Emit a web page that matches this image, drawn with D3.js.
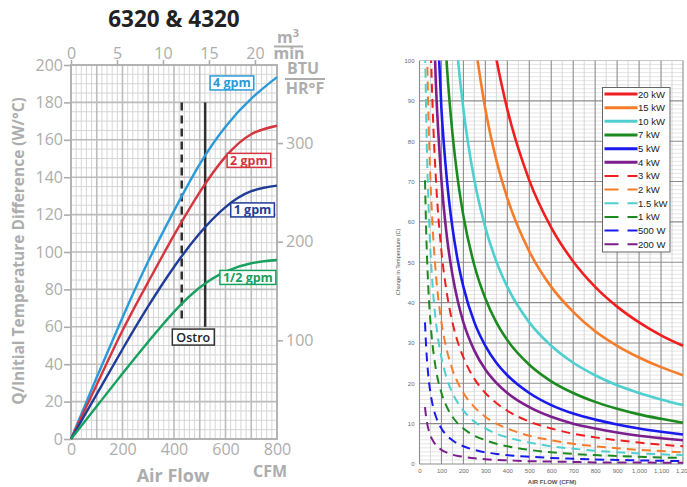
<!DOCTYPE html>
<html><head><meta charset="utf-8">
<script src="https://cdn.jsdelivr.net/npm/d3@7"></script>
<style>body{margin:0;background:#fff;overflow:hidden}</style></head>
<body><svg id="c" width="687" height="487"></svg>
<script>
// ---------- LEFT CHART DATA ----------
const leftFlow = [0, 100, 200, 300, 400, 500, 600, 700, 800];           // CFM
const gpm4  = [0, 33, 65, 95, 122, 147, 167, 182, 193.5];
const gpm2  = [0, 29, 58, 84, 109, 132, 151, 163, 167.5];
const gpm1  = [0, 24, 48, 71, 92, 110, 124, 132.5, 135.5];
const gpmHalf = [0, 17.5, 35, 52, 68, 81, 89.5, 94, 95.7];
const leftNames = ["4 gpm", "2 gpm", "1 gpm", "1/2 gpm"];
const leftColors = ["#2a9bd8", "#d3363f", "#1f3c98", "#17a05e"];
const leftYTicks = [0, 20, 40, 60, 80, 100, 120, 140, 160, 180, 200];
const leftXTicks = [0, 200, 400, 600, 800];
const topTicks = [0, 5, 10, 15, 20];           // m3/min
const btuTicks = [100, 200, 300];
const ostroFlow = [430, 521];                   // dashed, solid
const ostroRange = [[62, 180], [60, 180]];

// ---------- RIGHT CHART DATA ----------
const rightFlow = [25, 30, 40, 50, 60, 75, 100, 125, 150, 175, 200, 250, 300, 350, 400, 500, 600, 700, 800, 900, 1000, 1100, 1200];
const kw20  = [null,null,null,null,null,null,null,null,null,null,null,null,117.1,100.4,87.9,70.3,58.6,50.2,43.9,39.0,35.1,31.9,29.3];
const kw15  = [null,null,null,null,null,null,null,null,null,null,null,105.4,87.9,75.3,65.9,52.7,43.9,37.7,32.9,29.3,26.4,24.0,22.0];
const kw10  = [null,null,null,null,null,null,null,null,117.1,100.4,87.9,70.3,58.6,50.2,43.9,35.1,29.3,25.1,22.0,19.5,17.6,16.0,14.6];
const kw7   = [null,null,null,null,null,null,123.0,98.4,82.0,70.3,61.5,49.2,41.0,35.1,30.7,24.6,20.5,17.6,15.4,13.7,12.3,11.2,10.2];
const kw5   = [null,null,null,null,null,117.1,87.9,70.3,58.6,50.2,43.9,35.1,29.3,25.1,22.0,17.6,14.6,12.5,11.0,9.8,8.8,8.0,7.3];
const kw4   = [null,null,null,null,117.1,93.7,70.3,56.2,46.9,40.2,35.1,28.1,23.4,20.1,17.6,14.1,11.7,10.0,8.8,7.8,7.0,6.4,5.9];
const kw3   = [null,null,null,105.4,87.9,70.3,52.7,42.2,35.1,30.1,26.4,21.1,17.6,15.1,13.2,10.5,8.8,7.5,6.6,5.9,5.3,4.8,4.4];
const kw2   = [null,117.1,87.9,70.3,58.6,46.9,35.1,28.1,23.4,20.1,17.6,14.1,11.7,10.0,8.8,7.0,5.9,5.0,4.4,3.9,3.5,3.2,2.9];
const kw1_5 = [105.4,87.9,65.9,52.7,43.9,35.1,26.4,21.1,17.6,15.1,13.2,10.5,8.8,7.5,6.6,5.3,4.4,3.8,3.3,2.9,2.6,2.4,2.2];
const kw1   = [70.3,58.6,43.9,35.1,29.3,23.4,17.6,14.1,11.7,10.0,8.8,7.0,5.9,5.0,4.4,3.5,2.9,2.5,2.2,2.0,1.8,1.6,1.5];
const w500  = [35.1,29.3,22.0,17.6,14.6,11.7,8.8,7.0,5.9,5.0,4.4,3.5,2.9,2.5,2.2,1.8,1.5,1.3,1.1,1.0,0.9,0.8,0.7];
const w200  = [14.1,11.7,8.8,7.0,5.9,4.7,3.5,2.8,2.3,2.0,1.8,1.4,1.2,1.0,0.9,0.7,0.6,0.5,0.4,0.4,0.4,0.3,0.3];
const rightNames = ["20 kW","15 kW","10 kW","7 kW","5 kW","4 kW","3 kW","2 kW","1.5 kW","1 kW","500 W","200 W"];
const rightColors = ["#f01e1e","#f77c2a","#4fcfcf","#1b8a1f","#1a1aee","#7d1e8e","#f01e1e","#f77c2a","#4fcfcf","#1b8a1f","#1a1aee","#7d1e8e"];
const rightDashed = [false,false,false,false,false,false,true,true,true,true,true,true];
const rightXTicks = [0,100,200,300,400,500,600,700,800,900,1000,1100,1200];
const rightYTicks = [0,10,20,30,40,50,60,70,80,90,100];

const svg = d3.select("#c");

// ================= LEFT CHART =================
const L = svg.append("g").attr("font-family", "'Open Sans', sans-serif");
const lx = d3.scaleLinear().domain([0, 800]).range([71, 277]);
const ly = d3.scaleLinear().domain([0, 200]).range([439, 65]);
const lxTop = d3.scaleLinear().domain([0, 22.4]).range([71, 277]);
const lyBtu = d3.scaleLinear().domain([0, 200 * 1.8956]).range([439, 65]);
const axisGray = "#adadad";

// grid minor
const minorX = d3.range(0, 801, 20), minorY = d3.range(0, 201, 5);
L.append("g").selectAll("line").data(minorX.filter(v => v % 100)).join("line")
  .attr("x1", d => lx(d)).attr("x2", d => lx(d)).attr("y1", ly(0)).attr("y2", ly(200))
  .attr("stroke", "#d6d6d6").attr("stroke-width", 1);
L.append("g").selectAll("line").data(minorY.filter(v => v % 20)).join("line")
  .attr("y1", d => ly(d)).attr("y2", d => ly(d)).attr("x1", lx(0)).attr("x2", lx(800))
  .attr("stroke", "#d6d6d6").attr("stroke-width", 1);
L.append("g").selectAll("line").data(d3.range(100, 800, 100)).join("line")
  .attr("x1", d => lx(d)).attr("x2", d => lx(d)).attr("y1", ly(0)).attr("y2", ly(200))
  .attr("stroke", "#bcbcbc").attr("stroke-width", 1.6);
L.append("g").selectAll("line").data(d3.range(20, 200, 20)).join("line")
  .attr("y1", d => ly(d)).attr("y2", d => ly(d)).attr("x1", lx(0)).attr("x2", lx(800))
  .attr("stroke", "#bcbcbc").attr("stroke-width", 1.6);
L.append("rect").attr("x", lx(0)).attr("y", ly(200)).attr("width", lx(800) - lx(0)).attr("height", ly(0) - ly(200))
  .attr("fill", "none").attr("stroke", "#b3b3b3").attr("stroke-width", 2);

function styleAxis(g) {
  g.select(".domain").remove();
  g.selectAll("line").attr("stroke", axisGray).attr("stroke-width", 1.6);
  g.selectAll("text").attr("fill", axisGray).attr("font-size", 16).attr("font-family", "'Open Sans', sans-serif");
}
L.append("g").attr("transform", `translate(${lx(0)},0)`)
  .call(d3.axisLeft(ly).tickValues(leftYTicks).tickSize(7).tickPadding(1)).call(styleAxis);
L.append("g").attr("transform", `translate(0,${ly(0)})`)
  .call(d3.axisBottom(lx).tickValues(leftXTicks).tickSize(0).tickPadding(5)).call(styleAxis);
L.append("g").attr("transform", `translate(0,${ly(200)})`)
  .call(d3.axisTop(lxTop).tickValues(topTicks).tickSize(5).tickPadding(1)).call(styleAxis);
L.append("g").attr("transform", `translate(${lx(800)},0)`)
  .call(d3.axisRight(lyBtu).tickValues(btuTicks).tickSize(6).tickPadding(3)).call(styleAxis);

// axis titles
L.append("text").attr("x", 174).attr("y", 27).attr("text-anchor", "middle")
  .attr("font-size", 22.5).attr("font-weight", 700).attr("fill", "#222").text("6320 & 4320");
L.append("text").attr("transform", "translate(24,251) rotate(-90)").attr("text-anchor", "middle")
  .attr("font-size", 15.5).attr("font-weight", 700).attr("fill", axisGray)
  .text("Q/Initial Temperature Difference (W/°C)");
L.append("text").attr("x", 173).attr("y", 482).attr("text-anchor", "middle")
  .attr("font-size", 18).attr("font-weight", 700).attr("fill", axisGray).text("Air Flow");
L.append("text").attr("x", 270).attr("y", 477).attr("text-anchor", "middle")
  .attr("font-size", 16).attr("font-weight", 700).attr("fill", axisGray).text("CFM");
// m3/min fraction
const fr1 = L.append("text").attr("x", 288).attr("y", 43).attr("text-anchor", "middle")
  .attr("font-size", 16).attr("font-weight", 700).attr("fill", axisGray);
fr1.append("tspan").text("m");
fr1.append("tspan").attr("font-size", 11).attr("dy", -6).text("3");
L.append("line").attr("x1", 274).attr("x2", 303).attr("y1", 46.5).attr("y2", 46.5).attr("stroke", axisGray).attr("stroke-width", 2);
L.append("text").attr("x", 289).attr("y", 59).attr("text-anchor", "middle")
  .attr("font-size", 16).attr("font-weight", 700).attr("fill", axisGray).text("min");
// BTU/HR°F fraction
L.append("text").attr("x", 303).attr("y", 74).attr("text-anchor", "middle")
  .attr("font-size", 16).attr("font-weight", 700).attr("fill", axisGray).text("BTU");
L.append("line").attr("x1", 285).attr("x2", 325).attr("y1", 79).attr("y2", 79).attr("stroke", axisGray).attr("stroke-width", 2);
L.append("text").attr("x", 305).attr("y", 94).attr("text-anchor", "middle")
  .attr("font-size", 16).attr("font-weight", 700).attr("fill", axisGray).text("HR°F");

// Ostro lines
const ostroG = L.append("g");
ostroFlow.forEach((f, i) => {
  ostroG.append("line").attr("x1", lx(f)).attr("x2", lx(f))
    .attr("y1", ly(ostroRange[i][1])).attr("y2", ly(ostroRange[i][0]))
    .attr("stroke", "#2e2e2e").attr("stroke-width", 2.5)
    .attr("stroke-dasharray", i === 0 ? "8,5" : null);
});

// curves
const leftSeries = [gpm4, gpm2, gpm1, gpmHalf];
const lline = d3.line().x((d, i) => lx(leftFlow[i])).y(d => ly(d)).curve(d3.curveNatural);
leftSeries.forEach((s, k) => {
  L.append("path").attr("d", lline(s)).attr("fill", "none")
    .attr("stroke", leftColors[k]).attr("stroke-width", 2.4);
});

// curve labels (anchored in data space)
const labelPos = [[625, 190.4], [691, 149], [705, 122.5], [687, 86.4]];
leftNames.forEach((n, k) => {
  const g = L.append("g");
  const t = g.append("text").attr("x", lx(labelPos[k][0])).attr("y", ly(labelPos[k][1]) + 4.5)
    .attr("text-anchor", "middle").attr("font-size", 12.5).attr("font-weight", 700)
    .attr("fill", leftColors[k]).text(n);
  const bb = t.node().getBBox();
  g.insert("rect", "text").attr("x", bb.x - 3).attr("y", ly(labelPos[k][1]) - 7)
    .attr("width", bb.width + 6).attr("height", 14)
    .attr("fill", "#fff").attr("stroke", leftColors[k]).attr("stroke-width", 1.5);
});
// Ostro label
{
  const g = L.append("g");
  const cx = lx(475), cy = ly(54.5);
  g.append("rect").attr("x", cx - 21).attr("y", cy - 8).attr("width", 42).attr("height", 16)
    .attr("fill", "#fff").attr("stroke", "#333").attr("stroke-width", 1.5);
  g.append("text").attr("x", cx).attr("y", cy + 4.5).attr("text-anchor", "middle")
    .attr("font-size", 12.5).attr("font-weight", 600).attr("fill", "#222").text("Ostro");
}

// ================= RIGHT CHART =================
const R = svg.append("g").attr("font-family", "'Liberation Sans', Arial, sans-serif");
const rx = d3.scaleLinear().domain([0, 1200]).range([419.5, 683]);
const ry = d3.scaleLinear().domain([0, 100]).range([464, 60.5]);

R.append("g").selectAll("line").data(d3.range(0, 101, 1).filter(v => v % 10)).join("line")
  .attr("x1", rx(0)).attr("x2", rx(1200)).attr("y1", d => ry(d)).attr("y2", d => ry(d))
  .attr("stroke", "#dedede").attr("stroke-width", 0.8);
R.append("g").selectAll("line").data(d3.range(50, 1200, 100)).join("line")
  .attr("x1", d => rx(d)).attr("x2", d => rx(d)).attr("y1", ry(0)).attr("y2", ry(100))
  .attr("stroke", "#d3d3d3").attr("stroke-width", 0.9);
R.append("g").selectAll("line").data(rightYTicks).join("line")
  .attr("x1", rx(0)).attr("x2", rx(1200)).attr("y1", d => ry(d)).attr("y2", d => ry(d))
  .attr("stroke", d => d === 100 ? "#c8c8c8" : "#8c8c8c").attr("stroke-width", 1.1);
R.append("g").selectAll("line").data(rightXTicks).join("line")
  .attr("x1", d => rx(d)).attr("x2", d => rx(d)).attr("y1", ry(0)).attr("y2", ry(100))
  .attr("stroke", "#8c8c8c").attr("stroke-width", 1.1);

function styleSmall(g) {
  g.select(".domain").remove();
  g.selectAll("line").remove();
  g.selectAll("text").attr("fill", "#6a6a6a").attr("font-size", 6).attr("font-family", "'Liberation Sans', Arial, sans-serif");
}
R.append("g").attr("transform", `translate(${rx(0)},0)`)
  .call(d3.axisLeft(ry).tickValues(rightYTicks).tickSize(0).tickPadding(5)).call(styleSmall);
R.append("g").attr("transform", `translate(0,${ry(0)})`)
  .call(d3.axisBottom(rx).tickValues(rightXTicks).tickSize(0).tickPadding(5)).call(styleSmall);
R.append("text").attr("transform", "translate(400,262) rotate(-90)").attr("text-anchor", "middle")
  .attr("font-size", 5.5).attr("fill", "#555").text("Change in Temperature (C)");
R.append("text").attr("x", 552).attr("y", 484).attr("text-anchor", "middle")
  .attr("font-size", 6).attr("font-weight", 700).attr("fill", "#555").text("AIR FLOW (CFM)");

svg.append("clipPath").attr("id", "rclip").append("rect")
  .attr("x", rx(0)).attr("y", ry(100)).attr("width", rx(1200) - rx(0) + 4).attr("height", ry(0) - ry(100));
const rightSeries = [kw20, kw15, kw10, kw7, kw5, kw4, kw3, kw2, kw1_5, kw1, w500, w200];
const rline = d3.line().defined(d => d != null).x((d, i) => rx(rightFlow[i])).y(d => ry(d)).curve(d3.curveMonotoneX);
const curvesG = R.append("g").attr("clip-path", "url(#rclip)");
rightSeries.forEach((s, k) => {
  curvesG.append("path").attr("d", rline(s)).attr("fill", "none")
    .attr("stroke", rightColors[k]).attr("stroke-width", rightDashed[k] ? 2 : 2.6)
    .attr("stroke-dasharray", rightDashed[k] ? "9,6" : null);
});

// legend
const lg = R.append("g");
lg.append("rect").attr("x", 602.5).attr("y", 87.5).attr("width", 67.5).attr("height", 164.5)
  .attr("fill", "#fff").attr("stroke", "#666").attr("stroke-width", 1);
rightNames.forEach((n, k) => {
  const y = 94 + k * 13.66;
  lg.append("line").attr("x1", 604.5).attr("x2", 637.5).attr("y1", y).attr("y2", y)
    .attr("stroke", rightColors[k]).attr("stroke-width", rightDashed[k] ? 2 : 3)
    .attr("stroke-dasharray", rightDashed[k] ? "14,9" : null);
  lg.append("text").attr("x", 638).attr("y", y + 3.5).attr("font-size", 9.5)
    .attr("fill", "#222").text(n);
});
</script></body></html>
